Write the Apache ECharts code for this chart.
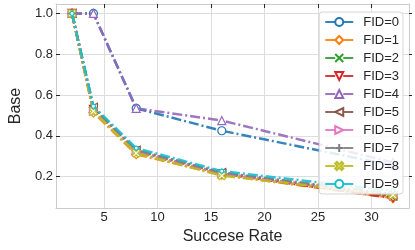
<!DOCTYPE html>
<html>
<head>
<meta charset="utf-8">
<script src="https://cdn.jsdelivr.net/npm/echarts@6/dist/echarts.min.js"></script>
<style>html,body{margin:0;padding:0;background:#fff;}#c{width:415px;height:250px;}</style>
</head>
<body>
<div id="c"></div>
<script>
const xValues = [2, 4, 8, 16, 32];
const seriesNames = ['FID=0','FID=1','FID=2','FID=3','FID=4','FID=5','FID=6','FID=7','FID=8','FID=9'];
const fid0 = [1.0, 1.0, 0.535, 0.425, 0.255];
const fid1 = [1.0, 0.515, 0.31, 0.21, 0.095];
const fid2 = [1.0, 0.525, 0.32, 0.215, 0.10];
const fid3 = [1.0, 0.53, 0.325, 0.215, 0.095];
const fid4 = [1.0, 1.0, 0.535, 0.475, 0.27];
const fid5 = [1.0, 0.54, 0.33, 0.22, 0.105];
const fid6 = [1.0, 0.52, 0.325, 0.215, 0.11];
const fid7 = [1.0, 0.535, 0.33, 0.22, 0.115];
const fid8 = [1.0, 0.52, 0.315, 0.205, 0.11];
const fid9 = [1.0, 0.545, 0.34, 0.227, 0.13];
const xTicks = [5, 10, 15, 20, 25, 30];
const yTicks = [0.2, 0.4, 0.6, 0.8, 1.0];

const allData = [fid0, fid1, fid2, fid3, fid4, fid5, fid6, fid7, fid8, fid9];
const colors = ['#1f77b4','#ff7f0e','#2ca02c','#d62728','#9467bd','#8c564b','#e377c2','#7f7f7f','#bcbd22','#17becf'];
const symbols = [
  {s:'circle', r:0, size:8},
  {s:'diamond', r:0, size:9},
  {s:'path://M0,0L10,10M10,0L0,10', r:0, size:7},
  {s:'triangle', r:180, size:8},
  {s:'triangle', r:0, size:8},
  {s:'triangle', r:90, size:8},
  {s:'triangle', r:-90, size:8},
  {s:'path://M5,0L5,10M0,5L10,5', r:0, size:8},
  {s:'path://M2,0L5,3L8,0L10,2L7,5L10,8L8,10L5,7L2,10L0,8L3,5L0,2Z', r:0, size:8},
  {s:'circle', r:0, size:4}
];
const FONT = '"Liberation Sans", Arial, sans-serif';

const series = seriesNames.map((name, i) => ({
  name: name,
  type: 'line',
  xAxisIndex: 0,
  yAxisIndex: 0,
  data: xValues.map((x, j) => [x, allData[i][j]]),
  symbol: symbols[i].s,
  symbolRotate: symbols[i].r,
  symbolSize: symbols[i].size,
  showAllSymbol: true,
  lineStyle: {color: colors[i], width: 2.5, type: [10, 3, 2, 3], opacity: 0.9},
  itemStyle: {color: '#fff', borderColor: colors[i], borderWidth: 1.2},
  emphasis: {disabled: true},
  animation: false,
  z: 2 + i
}));

const chart = echarts.init(document.getElementById('c'), null, {renderer: 'canvas'});
chart.setOption({
  backgroundColor: '#fff',
  animation: false,
  grid: {left: 42, right: 6, top: 4, bottom: 36, containLabel: false},
  xAxis: [{
    type: 'value', min: 0.5, max: 33.5,
    name: 'Succese Rate', nameLocation: 'middle', nameGap: 16,
    nameTextStyle: {fontFamily: FONT, fontSize: 16, color: '#262626'},
    axisLine: {show: true, lineStyle: {color: '#cccccc', width: 1}},
    axisTick: {show: false, customValues: xTicks},
    axisLabel: {customValues: xTicks, fontFamily: FONT, fontSize: 13, color: '#262626', margin: 3},
    splitLine: {show: true, lineStyle: {color: '#dddddd', width: 1}}
  }, {
    type: 'value', min: 0.5, max: 33.5, position: 'top',
    axisLine: {show: true, lineStyle: {color: '#cccccc', width: 1}},
    axisTick: {show: true, inside: true, length: 4, customValues: xTicks, lineStyle: {color: '#262626', width: 1}},
    axisLabel: {show: false, customValues: xTicks},
    splitLine: {show: false}
  }],
  yAxis: [{
    type: 'value', min: 0.046, max: 1.046,
    name: 'Base', nameLocation: 'middle', nameGap: 26,
    nameTextStyle: {fontFamily: FONT, fontSize: 16, color: '#262626'},
    axisLine: {show: true, lineStyle: {color: '#cccccc', width: 1}},
    axisTick: {show: true, inside: true, length: 4, customValues: yTicks, lineStyle: {color: '#262626', width: 1}},
    axisLabel: {customValues: yTicks, fontFamily: FONT, fontSize: 13, color: '#262626', margin: 3,
      formatter: v => v.toFixed(1)},
    splitLine: {show: true, lineStyle: {color: '#dddddd', width: 1}}
  }, {
    type: 'value', min: 0.046, max: 1.046, position: 'right',
    axisLine: {show: true, lineStyle: {color: '#cccccc', width: 1}},
    axisTick: {show: true, inside: false, length: 3, customValues: yTicks, lineStyle: {color: '#262626', width: 1}},
    axisLabel: {show: false, customValues: yTicks},
    splitLine: {show: false}
  }],
  legend: {
    data: seriesNames,
    orient: 'vertical',
    right: 12, top: 12,
    padding: [3, 4, 3, 5],
    itemWidth: 28, itemHeight: 10, itemGap: 4,
    backgroundColor: 'rgba(255,255,255,0.85)',
    borderColor: '#d5d5d5', borderWidth: 1, borderRadius: 3,
    textStyle: {fontFamily: FONT, fontSize: 13, lineHeight: 14, color: '#262626', padding: [0, 0, 0, 5]},
    z: 20
  },
  series: series
});
</script>
</body>
</html>
